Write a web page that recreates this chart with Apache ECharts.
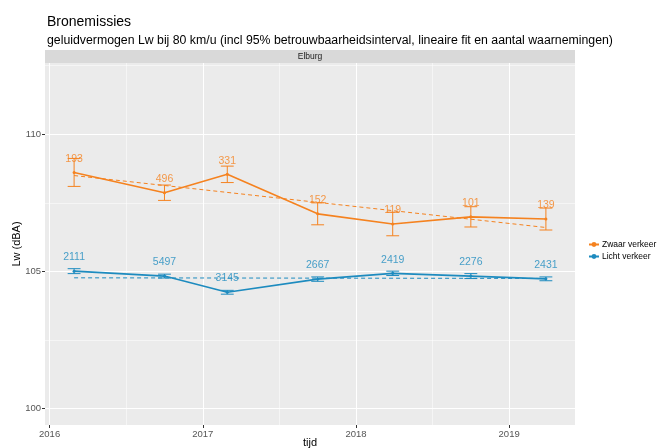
<!DOCTYPE html>
<html>
<head>
<meta charset="utf-8">
<script src="https://cdn.jsdelivr.net/npm/echarts@6/dist/echarts.min.js"></script>
<style>
html,body{margin:0;padding:0;background:#fff;}
#c{width:665px;height:448px;}
</style>
</head>
<body>
<div id="c"></div>
<script>
// ---- data ----
const years = [2016.16, 2016.75, 2017.16, 2017.75, 2018.24, 2018.75, 2019.24];
const heavyLw = [108.61, 107.87, 108.54, 107.10, 106.73, 106.99, 106.91];
const heavyCi = [0.51, 0.28, 0.30, 0.40, 0.43, 0.37, 0.40];
const heavyN = [193, 496, 331, 152, 119, 101, 139];
const lightLw = [105.01, 104.83, 104.24, 104.72, 104.93, 104.83, 104.73];
const lightCi = [0.09, 0.07, 0.07, 0.08, 0.08, 0.09, 0.07];
const lightN = [2111, 5497, 3145, 2667, 2419, 2276, 2431];
const xTicks = [2016, 2017, 2018, 2019];
const xMinor = [2016.5, 2017.5, 2018.5];
const yTicks = [100, 105, 110];
const yMinor = [102.5, 107.5, 112.5];
const seriesNames = ['Zwaar verkeer', 'Licht verkeer'];

const ORANGE = '#F5821F';
const BLUE = '#1D8BBF';

function fit(xs, ys) {
  const n = xs.length;
  const mx = xs.reduce((a, b) => a + b, 0) / n;
  const my = ys.reduce((a, b) => a + b, 0) / n;
  let sxy = 0, sxx = 0;
  for (let i = 0; i < n; i++) { sxy += (xs[i] - mx) * (ys[i] - my); sxx += (xs[i] - mx) ** 2; }
  const b = sxy / sxx, a = my - b * mx;
  return [[xs[0], a + b * xs[0]], [xs[n - 1], a + b * xs[n - 1]]];
}

function errData(lw, ci) { return years.map((x, i) => [x, lw[i] - ci[i], lw[i] + ci[i]]); }
function labData(lw, n) { return years.map((x, i) => ({ value: [x, lw[i] + 0.5], n: n[i] })); }
function errRender(color) {
  return function (params, api) {
    const x = api.value(0), lo = api.value(1), hi = api.value(2);
    const hw = 0.042;
    const pLo = api.coord([x, lo]), pHi = api.coord([x, hi]);
    const lL = api.coord([x - hw, lo]), lR = api.coord([x + hw, lo]);
    const hL = api.coord([x - hw, hi]), hR = api.coord([x + hw, hi]);
    const st = { stroke: color, lineWidth: 1 };
    return { type: 'group', children: [
      { type: 'line', shape: { x1: pLo[0], y1: pLo[1], x2: pHi[0], y2: pHi[1] }, style: st },
      { type: 'line', shape: { x1: lL[0], y1: lL[1], x2: lR[0], y2: lR[1] }, style: st },
      { type: 'line', shape: { x1: hL[0], y1: hL[1], x2: hR[0], y2: hR[1] }, style: st }
    ] };
  };
}

const FONT = 'Liberation Sans, Arial, sans-serif';
const gridLineData = []
  .concat(xTicks.map(v => ({ xAxis: v, lineStyle: { width: 1 } })))
  .concat(xMinor.map(v => ({ xAxis: v, lineStyle: { width: 0.5 } })))
  .concat(yTicks.map(v => ({ yAxis: v, lineStyle: { width: 1 } })))
  .concat(yMinor.map(v => ({ yAxis: v, lineStyle: { width: 0.5 } })));

const chart = echarts.init(document.getElementById('c'), null, { renderer: 'canvas' });
chart.setOption({
  animation: false,
  textStyle: { fontFamily: FONT },
  title: [
    { text: 'Bronemissies', left: 42, top: 10, textStyle: { fontSize: 14, fontWeight: 'normal', color: '#000', fontFamily: FONT } },
    { text: 'geluidvermogen Lw bij 80 km/u (incl 95% betrouwbaarheidsinterval, lineaire fit en aantal waarnemingen)', left: 42, top: 30, textStyle: { fontSize: 12.3, fontWeight: 'normal', color: '#000', fontFamily: FONT } }
  ],
  graphic: [
    { type: 'rect', shape: { x: 45, y: 50, width: 530, height: 13 }, style: { fill: '#D9D9D9' }, z: 0 },
    { type: 'text', x: 310, y: 56.5, style: { text: 'Elburg', fill: '#1A1A1A', font: '8.5px ' + FONT, align: 'center', verticalAlign: 'middle' }, z: 1 }
  ],
  legend: {
    orient: 'vertical', left: 583, top: 235, itemWidth: 10, itemHeight: 6, itemGap: 3,
    data: seriesNames,
    textStyle: { fontSize: 8.5, color: '#000', fontFamily: FONT, padding: [0, 0, 0, -2] }
  },
  grid: { left: 45, right: 90, top: 63, bottom: 23, show: true, backgroundColor: '#EBEBEB', borderWidth: 0, outerBoundsMode: 'none', containLabel: false },
  xAxis: {
    type: 'value', min: 2015.97, max: 2019.43,
    splitLine: { show: false }, axisLine: { show: false },
    axisTick: { show: true, customValues: xTicks, length: 3, lineStyle: { color: '#333' } },
    axisLabel: { customValues: xTicks, color: '#555', fontSize: 9.5, margin: 4, formatter: v => String(Math.round(v)) },
    name: 'tijd', nameLocation: 'middle', nameGap: 12, nameMoveOverlap: false,
    nameTextStyle: { fontSize: 11, color: '#000', fontFamily: FONT, verticalAlign: 'top' }
  },
  yAxis: {
    type: 'value', min: 99.4, max: 112.6,
    splitLine: { show: false }, axisLine: { show: false },
    axisTick: { show: true, customValues: yTicks, length: 3, lineStyle: { color: '#333' } },
    axisLabel: { customValues: yTicks, color: '#555', fontSize: 9.5, margin: 4, formatter: v => String(Math.round(v)) },
    name: 'Lw (dBA)', nameLocation: 'middle', nameGap: 23, nameMoveOverlap: false,
    nameTextStyle: { fontSize: 11, color: '#000', fontFamily: FONT }
  },
  series: [
    { type: 'line', data: [], silent: true, z: 1,
      markLine: { silent: true, symbol: 'none', z: 1, label: { show: false }, lineStyle: { color: '#FFFFFF', type: 'solid' }, animation: false, data: gridLineData } },
    { type: 'line', name: 'fitH', data: fit(years, heavyLw), symbol: 'none', silent: true, z: 3,
      lineStyle: { color: ORANGE, width: 1, type: [4, 3] } },
    { type: 'line', name: 'fitL', data: fit(years, lightLw), symbol: 'none', silent: true, z: 3,
      lineStyle: { color: BLUE, width: 1, type: [4, 3] } },
    { type: 'custom', data: errData(heavyLw, heavyCi), renderItem: errRender(ORANGE), z: 4, encode: { x: 0, y: [1, 2] } },
    { type: 'custom', data: errData(lightLw, lightCi), renderItem: errRender(BLUE), z: 4, encode: { x: 0, y: [1, 2] } },
    { type: 'line', name: seriesNames[0], data: years.map((x, i) => [x, heavyLw[i]]), z: 5,
      symbol: 'circle', symbolSize: 3, itemStyle: { color: ORANGE }, lineStyle: { color: ORANGE, width: 1.6 } },
    { type: 'line', name: seriesNames[1], data: years.map((x, i) => [x, lightLw[i]]), z: 5,
      symbol: 'circle', symbolSize: 3, itemStyle: { color: BLUE }, lineStyle: { color: BLUE, width: 1.6 } },
    { type: 'scatter', data: labData(heavyLw, heavyN), symbolSize: 0, z: 6, silent: true,
      label: { show: true, position: 'inside', color: ORANGE, fontSize: 10.5, fontFamily: FONT, formatter: p => String(p.data.n) } },
    { type: 'scatter', data: labData(lightLw, lightN), symbolSize: 0, z: 6, silent: true,
      label: { show: true, position: 'inside', color: BLUE, fontSize: 10.5, fontFamily: FONT, formatter: p => String(p.data.n) } }
  ]
});
</script>
</body>
</html>
